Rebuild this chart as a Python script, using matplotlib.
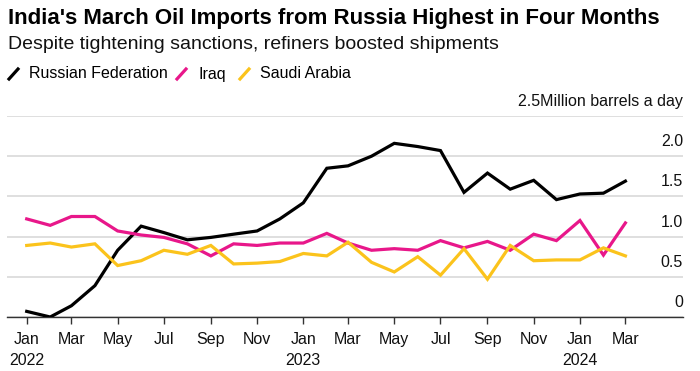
import datetime
import matplotlib
matplotlib.use("Agg")
import matplotlib.pyplot as plt
from matplotlib import font_manager

# monthly values, Jan 2022 .. Mar 2024, million barrels a day
months = [datetime.date(2022 + (i // 12), i % 12 + 1, 1) for i in range(27)]
russia = [0.07, 0.00, 0.14, 0.39, 0.83, 1.13, 1.05, 0.96, 0.99, 1.03, 1.07, 1.22,
          1.42, 1.85, 1.88, 2.00, 2.16, 2.12, 2.07, 1.55, 1.79, 1.59, 1.70, 1.46,
          1.53, 1.54, 1.69]
iraq = [1.22, 1.14, 1.25, 1.25, 1.07, 1.02, 0.99, 0.91, 0.76, 0.91, 0.89, 0.92,
        0.92, 1.04, 0.92, 0.83, 0.85, 0.83, 0.95, 0.86, 0.94, 0.83, 1.03, 0.95,
        1.20, 0.77, 1.17]
saudi = [0.89, 0.92, 0.87, 0.91, 0.64, 0.70, 0.83, 0.78, 0.89, 0.66, 0.67, 0.69,
         0.79, 0.76, 0.93, 0.68, 0.56, 0.75, 0.52, 0.85, 0.47, 0.89, 0.70, 0.71,
         0.71, 0.86, 0.76]

series_names = ["Russian Federation", "Iraq", "Saudi Arabia"]
colors = ["#000000", "#e8178a", "#fbc31c"]
yticks = [0, 0.5, 1.0, 1.5, 2.0, 2.5]
ytick_labels = ["0", "0.5", "1.0", "1.5", "2.0", "2.5Million barrels a day"]

names = {f.name for f in font_manager.fontManager.ttflist}
fam = "Liberation Sans Narrow" if "Liberation Sans Narrow" in names else "Liberation Sans"
plt.rcParams["font.family"] = [fam, "DejaVu Sans"]

fig = plt.figure(figsize=(7, 3.71), dpi=100)
ax = fig.add_axes([7 / 700, 54 / 371, 676 / 700, 201 / 371])

for vals, c in zip([russia, iraq, saudi], colors):
    ax.plot(months, vals, color=c, lw=2.3, solid_joinstyle="miter", zorder=3)

ax.set_ylim(0, 2.5)
ax.set_xlim(datetime.date(2021, 12, 6), datetime.date(2024, 5, 16))
ax.set_yticks(yticks)
ax.yaxis.grid(True, color="#dcdcdc", lw=1.3)
ax.tick_params(axis="y", length=0, labelleft=False)
for s in ["top", "right", "left"]:
    ax.spines[s].set_visible(False)
ax.spines["bottom"].set_color("#333333")
ax.spines["bottom"].set_linewidth(1.0)

for v, lab in zip(yticks, ytick_labels):
    ax.annotate(lab, xy=(1, v), xycoords=("axes fraction", "data"),
                xytext=(0, 5), textcoords="offset points",
                ha="right", va="bottom", fontsize=11.5, color="#111111")

# x ticks every other month, year under each January
tick_dates = [m for m in months if m.month % 2 == 1]
xlabels = []
for d in tick_dates:
    lab = d.strftime("%b")
    if d.month == 1:
        lab += "\n%d" % d.year
    xlabels.append(lab)
ax.set_xticks(tick_dates)
ax.set_xticklabels(xlabels, fontsize=11.5, color="#111111")
ax.tick_params(axis="x", length=5, width=1, color="#333333", pad=6)
for lbl in ax.get_xticklabels():
    lbl.set_linespacing(1.5)

fig.text(8 / 700, 1 - 8 / 371, "India's March Oil Imports from Russia Highest in Four Months",
         fontsize=16, fontweight="bold", ha="left", va="top")
fig.text(8 / 700, 1 - 36 / 371, "Despite tightening sanctions, refiners boosted shipments",
         fontsize=14, ha="left", va="top", color="#111111")

sw_x = [9, 177, 240]
tx_x = [29, 198, 260]
ly = 1 - 74 / 371
for sx, tx, name, c in zip(sw_x, tx_x, series_names, colors):
    fig.add_artist(plt.Line2D([sx / 700, (sx + 9) / 700], [ly - 5 / 371, ly + 5 / 371],
                              color=c, lw=2.3, transform=fig.transFigure))
    fig.text(tx / 700, ly, name, fontsize=11.5, ha="left", va="center")

fig.savefig("out.png", dpi=100)
